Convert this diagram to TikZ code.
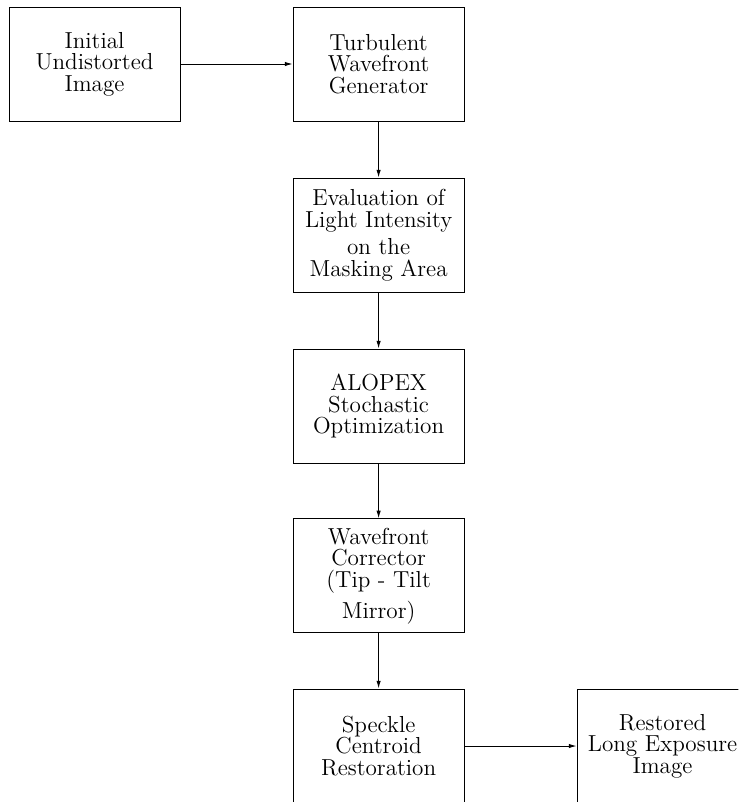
\documentclass[tikz,border=0pt]{standalone}
\usetikzlibrary{arrows.meta,calc,positioning}
\tikzset{
  flowbox/.style={draw=black,rectangle,fill=white,line width=0.5pt,
    minimum width=3.116cm,minimum height=2.077cm,inner sep=2pt,align=center,
    font=\fontsize{12}{11.2}\selectfont},
  flowarrow/.style={draw=black,line width=0.5pt,-{Latex[length=1.4mm,width=0.8mm]}},
}
\begin{document}
\begin{tikzpicture}[x=1cm,y=1cm]
  \useasboundingbox (0,0) rectangle (13.45,-14.61);
  \clip (0,0) rectangle (13.45,-14.61);
  \node[flowbox] (init) at (1.722,-1.166) {Initial\\Undistorted\\Image};
  \node[flowbox] (gen) at (6.897,-1.166) {Turbulent\\Wavefront\\Generator};
  \node[flowbox] (eval) at (6.897,-4.282) {Evaluation of\\Light Intensity\\[3pt]on the\\Masking Area};
  \node[flowbox] (alopex) at (6.897,-7.397) {ALOPEX\\Stochastic\\Optimization};
  \node[flowbox] (corr) at (6.897,-10.49) {Wavefront\\Corrector\\(Tip - Tilt\\[3pt]Mirror)};
  \node[flowbox] (speckle) at (6.897,-13.59) {Speckle\\Centroid\\Restoration};
  \node[flowbox] (restored) at (12.07,-13.59) {Restored\\Long Exposure\\Image};
  \draw[flowarrow] (init)--(gen);
  \foreach \a/\b in {gen/eval,eval/alopex,alopex/corr,corr/speckle}
    {\draw[flowarrow] (\a)--(\b);}
  \draw[flowarrow] (speckle)--(restored);
\end{tikzpicture}
\end{document}
